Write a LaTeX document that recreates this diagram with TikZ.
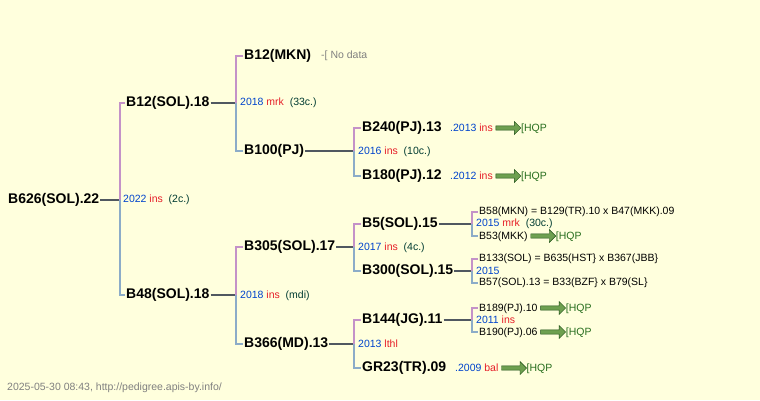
\documentclass[tikz,border=0pt]{standalone}
\usepackage{fontspec}
\setmainfont{Liberation Sans}
\usetikzlibrary{shapes.arrows}
\definecolor{paper}{RGB}{255,255,221}
\definecolor{sirec}{RGB}{196,146,200}
\definecolor{damc}{RGB}{140,172,200}
\definecolor{linkc}{RGB}{80,88,96}
\definecolor{yearc}{RGB}{0,68,204}
\definecolor{ownc}{RGB}{230,30,40}
\definecolor{notec}{RGB}{0,60,50}
\definecolor{hqpc}{RGB}{40,110,30}
\definecolor{hqpfill}{RGB}{110,160,80}
\newcommand{\yr}[1]{\textcolor{yearc}{#1}}
\newcommand{\ow}[1]{\textcolor{ownc}{#1}}
\newcommand{\nt}[1]{\textcolor{notec}{#1}}
\newcommand{\hqp}{\tikz[baseline=-3.5pt]\node[single arrow,draw=hqpc!70!black,fill=hqpfill,minimum height=25pt,minimum width=13pt,single arrow head extend=2.5pt,inner sep=1pt]{};\textcolor{hqpc}{[HQP}}
\begin{document}
\begin{tikzpicture}[x=1pt,y=-1pt,
  every node/.style={inner sep=1pt,anchor=west},
  big/.style={font=\fontsize{14}{16}\selectfont\bfseries},
  small/.style={font=\fontsize{10.5}{12}\selectfont},
  link/.style={draw=linkc,line width=2.2pt},
  sire/.style={draw=sirec,line width=2.2pt},
  dam/.style={draw=damc,line width=2.2pt}]
\fill[paper] (0,0) rectangle (760,400);
\useasboundingbox (0,0) rectangle (760,400);
% generation 0 and 1
\node[big] (b626) at (7,200) {B626(SOL).22};
\node[big] (b12sol) at (125,103) {B12(SOL).18};
\node[big] (b48) at (125,295) {B48(SOL).18};
\coordinate (j1) at (120,200);
\node[small] (l1) at (122,200) {\yr{2022} \ow{ins} \ \nt{(2c.)}};
% generation 2
\node[big] (b12mkn) at (243,56) {B12(MKN)};
\node[small,text=gray] (nd) at (320,56) {-[ No data};
\node[big] (b100) at (243,151) {B100(PJ)};
\coordinate (j2) at (236,103);
\node[small] (l2) at (239,103) {\yr{2018} \ow{mrk} \ \nt{(33c.)}};
\node[big] (b305) at (243,247) {B305(SOL).17};
\node[big] (b366) at (243,344) {B366(MD).13};
\coordinate (j3) at (236,295);
\node[small] (l3) at (239,296) {\yr{2018} \ow{ins} \ \nt{(mdi)}};
% generation 3
\node[big] (b240) at (361,128) {B240(PJ).13};
\node[small] (n240) at (449,128) {\yr{.2013} \ow{ins} \hqp};
\node[big] (b180) at (361,176) {B180(PJ).12};
\node[small] (n180) at (449,176) {\yr{.2012} \ow{ins} \hqp};
\coordinate (j4) at (354,151);
\node[small] (l4) at (357,152) {\yr{2016} \ow{ins} \ \nt{(10c.)}};
\node[big] (b5) at (361,224) {B5(SOL).15};
\node[big] (b300) at (361,271) {B300(SOL).15};
\coordinate (j5) at (354,247);
\node[small] (l5) at (357,248) {\yr{2017} \ow{ins} \ \nt{(4c.)}};
\node[big] (b144) at (361,320) {B144(JG).11};
\node[big] (gr23) at (361,368) {GR23(TR).09};
\node[small] (ngr) at (454,368) {\yr{.2009} \ow{bal} \hqp};
\coordinate (j6) at (354,344);
\node[small] (l6) at (357,344) {\yr{2013} \ow{lthl}};
% generation 4
\node[small] (b58) at (478,212) {B58(MKN) = B129(TR).10 x B47(MKK).09};
\node[small] (b53) at (478,236) {B53(MKK) \hqp};
\coordinate (j7) at (472,224);
\node[small] (l7) at (475,224) {\yr{2015} \ow{mrk} \ \nt{(30c.)}};
\node[small] (b133) at (478,259) {B133(SOL) = B635(HST\} x B367(JBB\}};
\node[small] (b57) at (478,283) {B57(SOL).13 = B33(BZF\} x B79(SL\}};
\coordinate (j8) at (472,271);
\node[small] (l8) at (475,271) {\yr{2015}};
\node[small] (b189) at (478,308) {B189(PJ).10 \hqp};
\node[small] (b190) at (478,332) {B190(PJ).06 \hqp};
\coordinate (j9) at (472,320);
\node[small] (l9) at (475,320) {\yr{2011} \ow{ins}};
% connectors
\draw[link] (b626) -- (j1); \draw[sire] (j1) |- (b12sol.west); \draw[dam] (j1) |- (b48.west);
\draw[link] (b12sol) -- (j2); \draw[sire] (j2) |- (b12mkn.west); \draw[dam] (j2) |- (b100.west);
\draw[link] (b48) -- (j3); \draw[sire] (j3) |- (b305.west); \draw[dam] (j3) |- (b366.west);
\draw[link] (b100) -- (j4); \draw[sire] (j4) |- (b240.west); \draw[dam] (j4) |- (b180.west);
\draw[link] (b305) -- (j5); \draw[sire] (j5) |- (b5.west); \draw[dam] (j5) |- (b300.west);
\draw[link] (b366) -- (j6); \draw[sire] (j6) |- (b144.west); \draw[dam] (j6) |- (gr23.west);
\draw[link] (b5) -- (j7); \draw[sire] (j7) |- (b58.west); \draw[dam] (j7) |- (b53.west);
\draw[link] (b300) -- (j8); \draw[sire] (j8) |- (b133.west); \draw[dam] (j8) |- (b57.west);
\draw[link] (b144) -- (j9); \draw[sire] (j9) |- (b189.west); \draw[dam] (j9) |- (b190.west);
\node[small,text=gray] (foot) at (6,388) {2025-05-30 08:43, http://pedigree.apis-by.info/};
\end{tikzpicture}
\end{document}
